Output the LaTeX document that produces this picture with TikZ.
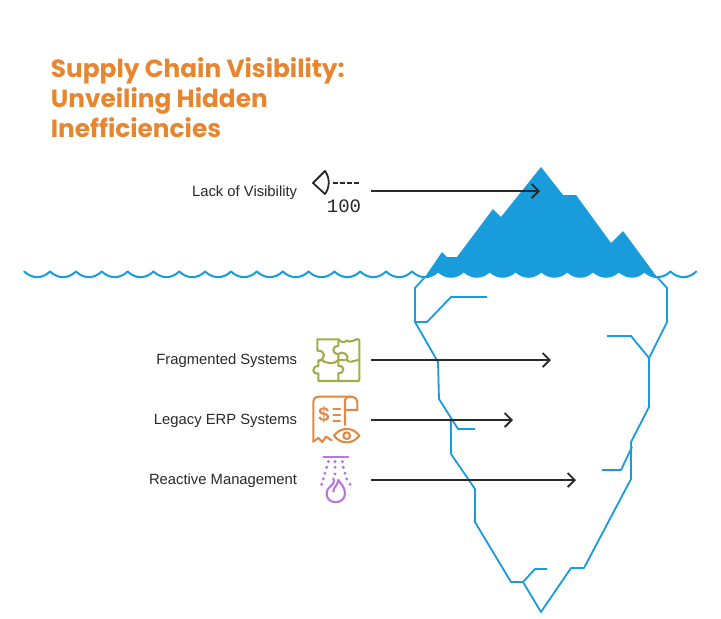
\documentclass[tikz,border=0pt]{standalone}
\usepackage{fontspec}
\usetikzlibrary{arrows.meta}
\setmainfont{Liberation Sans}
\newfontfamily\titlefont{Poppins}
\newfontfamily\countfont{Liberation Mono}
\definecolor{iceblue}{HTML}{189CDC}
\definecolor{titleorange}{HTML}{E8852F}
\definecolor{inkgrey}{HTML}{27292B}
\definecolor{puzzlegreen}{HTML}{A0AD4A}
\definecolor{ledgerorange}{HTML}{E08A45}
\definecolor{alarmpurple}{HTML}{B877DD}
\tikzset{
	issue/.style={anchor=east, text=inkgrey, font=\fontsize{14.8}{16}\selectfont, inner sep=0pt},
	iconbox/.style={minimum width=66pt, minimum height=40pt, inner sep=0pt, outer sep=0pt},
	ice/.style={draw=iceblue, line width=1.8pt, line join=round},
	wave/.style={draw=iceblue, line width=2pt, line cap=round},
	zoomed/.style={shift={(300,330)}, x=.3333pt, y=-.3333pt, line width=2.1pt, line join=round, line cap=round}
}
\begin{document}
\begin{tikzpicture}[x=1pt, y=-1pt, ->, >={Straight Barb[length=7pt, width=14pt]}, line width=1.8pt, inkgrey]
	\useasboundingbox (0, 0) rectangle (721, 619);
	\fill[white] (0, 0) rectangle (721, 619);

	\node[anchor=north west, inner sep=0pt, align=left, text=titleorange, font=\titlefont\bfseries\fontsize{24.8}{30}\selectfont] (title) at (50, 57) {Supply Chain Visibility:\\Unveiling Hidden\\Inefficiencies};

	% sea
	\foreach \x in {24.2, 50.05, 75.9, 101.75, 127.6, 153.45, 179.3, 205.15, 231, 256.85, 282.7, 308.55, 334.4, 360.25, 386.1, 411.95, 644.6, 670.45}
		\draw[wave, -] (\x, 271.5) .. controls (\x+8, 279) and (\x+18, 279) .. (\x+25.85, 271.5);

	% tip of the iceberg
	\fill[iceblue] (541, 167) -- (563, 195) -- (576, 195) -- (611, 243) -- (623, 231) -- (657, 277)
		.. controls (652, 277) and (648, 275.5) .. (644.6, 272.5)
		\foreach \x in {618.9, 593.05, 567.2, 541.35, 515.5, 489.65, 463.8, 437.95} { .. controls (\x+18, 279.5) and (\x+8, 279.5) .. (\x, 272.5) }
		.. controls (434, 275.5) and (430, 277) .. (425, 277)
		-- (442, 252) -- (447, 257) -- (457, 257) -- (493, 209) -- (501, 217) -- cycle;

	% hidden part
	\draw[ice, -] (425, 277) -- (415, 288) -- (415, 322) -- (438, 362) -- (439, 399) -- (458, 429) -- (475, 429);
	\draw[ice, -] (451, 420) -- (451, 454) -- (475, 489) -- (475, 522) -- (511, 582) -- (523, 582) -- (541, 612) -- (571, 568) -- (584, 568) -- (631, 479) -- (631, 442) -- (649, 407) -- (649, 358) -- (667, 322) -- (667, 288) -- (657, 277);
	\draw[ice, -] (415, 322) -- (427, 322) -- (451, 297) -- (487, 297);
	\draw[ice, -] (523, 582) -- (535, 569) -- (547, 569);
	\draw[ice, -] (607, 336) -- (631, 336) -- (649, 358);
	\draw[ice, -] (602, 470) -- (621, 470) -- (632, 447);

	% labels
	\node[issue] (lack) at (298, 192.5) {Lack of Visibility};
	\node[issue] (fragmented) at (298, 361) {Fragmented Systems};
	\node[issue] (legacy) at (298, 421) {Legacy ERP Systems};
	\node[issue] (reactive) at (298, 481) {Reactive Management};

	\node[iconbox] (lackicon) at (338, 191) {};
	\node[iconbox] (fragmentedicon) at (338, 360) {};
	\node[iconbox] (legacyicon) at (338, 420) {};
	\node[iconbox] (reactiveicon) at (338, 480) {};

	\coordinate (lackend) at (540, 191);
	\coordinate (fragmentedend) at (551, 360);
	\coordinate (legacyend) at (513, 420);
	\coordinate (reactiveend) at (576, 480);

	\draw[->] (lackicon.east) -- (lackend);
	\draw[->] (fragmentedicon.east) -- (fragmentedend);
	\draw[->] (legacyicon.east) -- (legacyend);
	\draw[->] (reactiveicon.east) -- (reactiveend);

	% viewer icon
	\draw[-, line join=round] (325, 171) -- (313, 183) -- (325, 194) .. controls (330, 187) and (330, 178) .. cycle;
	\draw[-, dashed, dash pattern=on 4.5pt off 2.5pt] (333, 183) -- (360, 183);
	\node[text=inkgrey, inner sep=0pt, font=\countfont\fontsize{19}{19}\selectfont] (count) at (344, 206) {100};

	% puzzle icon
	\begin{scope}[zoomed, -, puzzlegreen]
		\draw (52, 28) -- (115, 28) .. controls (125, 38) and (132, 38) .. (140, 32) .. controls (150, 38) and (160, 32) .. (172, 27) -- (178, 30) -- (178, 150) -- (175, 153) -- (55, 153) -- (55, 130)
			.. controls (35, 135) and (35, 108) .. (55, 108) -- (55, 92)
			.. controls (78, 90) and (78, 60) .. (52, 62) -- cycle;
		\draw (115, 28) -- (115, 48) .. controls (95, 48) and (95, 72) .. (115, 72) -- (115, 90) .. controls (105, 105) and (75, 100) .. (65, 90) -- (55, 92);
		\draw (115, 90) -- (135, 90);
		\draw (115, 72) .. controls (125, 62) and (150, 72) .. (140, 90) .. controls (150, 102) and (160, 90) .. (178, 90);
		\draw (115, 90) -- (115, 108) .. controls (135, 105) and (135, 130) .. (115, 130) -- (115, 153);
	\end{scope}

	% ledger icon
	\begin{scope}[zoomed, -, ledgerorange]
		\draw (40, 335) -- (40, 218) .. controls (40, 206) and (46, 200) .. (58, 200) -- (150, 200) .. controls (164, 200) and (172, 206) .. (172, 218) -- (172, 240) -- (135, 240);
		\draw (135, 285) -- (135, 210) .. controls (135, 204) and (142, 200) .. (150, 200);
		\draw (40, 335) -- (55, 324) -- (67, 336) -- (78, 320) -- (95, 331);
		\draw (100, 238) -- (120, 238);
		\draw (100, 255) -- (120, 255);
		\draw (100, 272) -- (120, 272);
		\node[text=ledgerorange, inner sep=0pt, font=\bfseries\fontsize{20}{20}\selectfont] (dollar) at (72, 255) {\$};
		\draw (102, 317) .. controls (122, 290) and (158, 290) .. (178, 317) .. controls (158, 344) and (122, 344) .. cycle;
		\draw (140, 317) circle (10);
	\end{scope}

	% sprinkler icon
	\begin{scope}[zoomed, -, alarmpurple]
		\draw (70, 380) -- (145, 380);
		\foreach \dotx/\doty in {85/395, 105/395, 127/395, 80/412, 105/412, 130/412, 75/430, 105/432, 135/430, 70/447, 140/447, 65/463, 150/463}
			\fill (\dotx, \doty) circle (5);
		\draw (100, 445) .. controls (108, 470) and (80, 465) .. (80, 492) .. controls (80, 525) and (135, 525) .. (135, 490) .. controls (135, 470) and (120, 460) .. (115, 450) .. controls (112, 470) and (100, 470) .. (100, 485);
	\end{scope}
\end{tikzpicture}
\end{document}
